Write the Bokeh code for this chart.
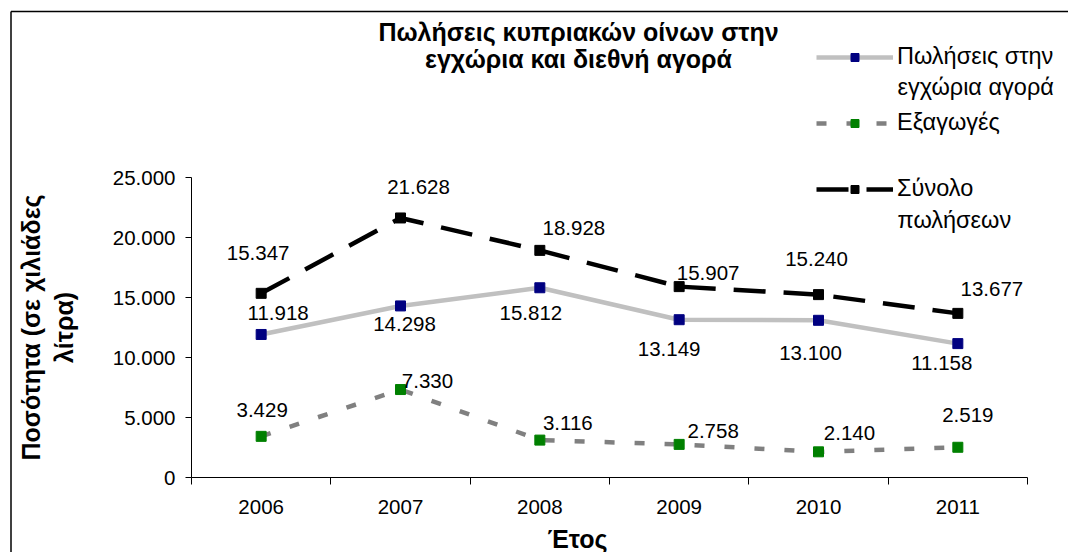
import math
from bokeh.plotting import figure
from bokeh.models import (FixedTicker, Range1d, Label, Arrow, Legend, LegendItem,
                          ColumnDataSource)
from bokeh.embed import file_html
from bokeh.resources import INLINE
from bokeh.core.properties import value

# ---------------- data ----------------
years = ["2006", "2007", "2008", "2009", "2010", "2011"]
domestic = [11918, 14298, 15812, 13149, 13100, 11158]
exports = [3429, 7330, 3116, 2758, 2140, 2519]
total = [15347, 21628, 18928, 15907, 15240, 13677]
y_ticks = [0, 5000, 10000, 15000, 20000, 25000]

title_lines = ["Πωλήσεις κυπριακών οίνων στην", "εγχώρια και διεθνή αγορά"]
x_title = "Έτος"
y_title_lines = ["Ποσότητα (σε χιλιάδες", "λίτρα)"]
legend_labels = ["Πωλήσεις στην\nεγχώρια αγορά", "Εξαγωγές", "Σύνολο\nπωλήσεων"]

# data-label placement offsets (pixels: right, down)
total_dx = [-3, 18, 34, 29, -2, 34]
total_dy = [-40, -31, -22, -14, -36, -24]
dom_dx = [17, 4, -9, -10, -8, -16]
dom_dy = [-21, 18, 25, 29, 33, 19]
exp_dx = [1, 27, 28, 34, 31, 10]
exp_dy = [-26, -9, -17, -13, -19, -32]


def fmt(v):
    return f"{v:,}".replace(",", ".")


FONT = "Liberation Sans"
FS = "20.5px"
LEG_FS = "23.5px"
BOLD_FS = "25px"

# canvas geometry (pixels)
W, H = 1068, 552
AX_LEFT, AX_RIGHT = 191, 1027     # plot area left/right
AX_TOP, AX_BOTTOM = 177, 477      # plot area top/bottom
ppx = (AX_RIGHT - AX_LEFT) / len(years)                 # px per category
ppy = (AX_BOTTOM - AX_TOP) / (y_ticks[-1] - y_ticks[0])  # px per unit


def ux(px):
    return (px - AX_LEFT) / ppx


def vy(py):
    return (AX_BOTTOM - py) / ppy


xs = [i + 0.5 for i in range(len(years))]

p = figure(width=W, height=H, x_range=Range1d(ux(0), ux(W)),
           y_range=Range1d(vy(H), vy(0)),
           output_backend="svg", toolbar_location=None,
           min_border=0, min_border_left=0, min_border_right=0,
           min_border_top=0, min_border_bottom=0)
p.title.visible = False
p.outline_line_color = None
p.xgrid.visible = False
p.ygrid.visible = False
p.background_fill_color = "white"
p.border_fill_color = "white"

# x axis: labels at category centres, tick marks at category boundaries
xa = p.xaxis[0]
xa.fixed_location = y_ticks[0]
xa.bounds = (0, len(years))
xa.ticker = FixedTicker(ticks=xs, minor_ticks=list(range(len(years) + 1)))
xa.major_label_overrides = {x: y for x, y in zip(xs, years)}
xa.major_tick_line_color = None
xa.major_tick_out = 6
xa.minor_tick_line_color = "black"
xa.minor_tick_out = 7
xa.minor_tick_in = 0
xa.axis_line_color = "black"
xa.major_label_standoff = 15
xa.major_label_text_font = FONT
xa.major_label_text_font_size = FS
xa.major_label_text_color = "black"

ya = p.yaxis[0]
ya.fixed_location = 0
ya.bounds = (y_ticks[0], y_ticks[-1])
ya.ticker = FixedTicker(ticks=y_ticks, minor_ticks=[])
ya.major_label_overrides = {t: fmt(t) for t in y_ticks}
ya.major_tick_out = 6
ya.major_tick_in = 0
ya.major_tick_line_color = "black"
ya.axis_line_color = "black"
ya.major_label_standoff = 10
ya.major_label_text_font = FONT
ya.major_label_text_font_size = FS
ya.major_label_text_color = "black"

# ---------------- series ----------------
src = ColumnDataSource(dict(
    x=xs, dom=domestic, exp=exports, tot=total,
    dom_t=[fmt(v) for v in domestic], exp_t=[fmt(v) for v in exports],
    tot_t=[fmt(v) for v in total],
    tdx=total_dx, tdy=total_dy, ddx=dom_dx, ddy=dom_dy, edx=exp_dx, edy=exp_dy))

r_dom_l = p.line("x", "dom", source=src, line_color="#C0C0C0", line_width=4.5)
r_dom_m = p.scatter("x", "dom", source=src, marker="square", size=10,
                    fill_color="#000080", line_color="#000080")
r_exp_l = p.line("x", "exp", source=src, line_color="#808080", line_width=4.5,
                 line_dash="10 20")
r_exp_m = p.scatter("x", "exp", source=src, marker="square", size=10,
                    fill_color="#008000", line_color="#008000")
r_tot_l = p.line("x", "tot", source=src, line_color="black", line_width=4.5,
                 line_dash="32 18")
r_tot_m = p.scatter("x", "tot", source=src, marker="square", size=10,
                    fill_color="black", line_color="black")

for col, dx, dy in (("tot", "tdx", "tdy"), ("dom", "ddx", "ddy"), ("exp", "edx", "edy")):
    p.text("x", col, text=col + "_t", source=src, x_offset=dx, y_offset=dy,
           text_align="center", text_baseline="middle",
           text_font=value(FONT), text_font_size=FS, text_color="black")

# ---------------- legend ----------------
# first line of each label lives in the Legend; continuation lines are Labels
LEG_X, LEG_Y0, LEG_STEP, LEG_LINE = 816, 55, 66.5, 31
first_lines = [s.split("\n")[0] for s in legend_labels]
legend = Legend(items=[
    LegendItem(label=first_lines[0], renderers=[r_dom_l, r_dom_m]),
    LegendItem(label=first_lines[1], renderers=[r_exp_l, r_exp_m]),
    LegendItem(label=first_lines[2], renderers=[r_tot_l, r_tot_m]),
], location=(LEG_X, H - 202), glyph_width=77,
    glyph_height=20, label_text_font=FONT, label_text_font_size=LEG_FS,
    label_text_color="black", spacing=39, padding=0, margin=0,
    border_line_alpha=0, background_fill_alpha=0, label_standoff=4)
p.add_layout(legend)
for i, s in enumerate(legend_labels):
    for j, line in enumerate(s.split("\n")[1:], start=1):
        p.add_layout(Label(x=ux(LEG_X + 77 + 4), y=vy(LEG_Y0 + i * LEG_STEP + j * LEG_LINE),
                           text=line, text_align="left", text_baseline="middle",
                           text_font=FONT, text_font_size=LEG_FS,
                           text_color="black"))

# ---------------- titles ----------------
for txt, py in zip(title_lines, [31, 58]):
    p.add_layout(Label(x=ux(578), y=vy(py), text=txt, text_align="center",
                       text_baseline="middle", text_font=FONT,
                       text_font_size=BOLD_FS, text_font_style="bold",
                       text_color="black"))
p.add_layout(Label(x=ux(577), y=vy(538), text=x_title, text_align="center",
                   text_baseline="middle", text_font=FONT,
                   text_font_size=BOLD_FS, text_font_style="bold",
                   text_color="black"))
for txt, px in zip(y_title_lines, [30, 63]):
    p.add_layout(Label(x=ux(px), y=vy((AX_TOP + AX_BOTTOM) / 2), text=txt,
                       angle=math.pi / 2, text_align="center",
                       text_baseline="middle", text_font=FONT,
                       text_font_size=BOLD_FS, text_font_style="bold",
                       text_color="black"))

# chart-area border (left and top edges)
p.add_layout(Arrow(end=None, x_start=ux(10.5), y_start=vy(H + 10), x_end=ux(10.5),
                   y_end=vy(11), line_width=1.5, line_color="black"))
p.add_layout(Arrow(end=None, x_start=ux(10.5), y_start=vy(11), x_end=ux(W + 10),
                   y_end=vy(11), line_width=1.5, line_color="black"))

open("out.html", "w").write(file_html(p, INLINE))
